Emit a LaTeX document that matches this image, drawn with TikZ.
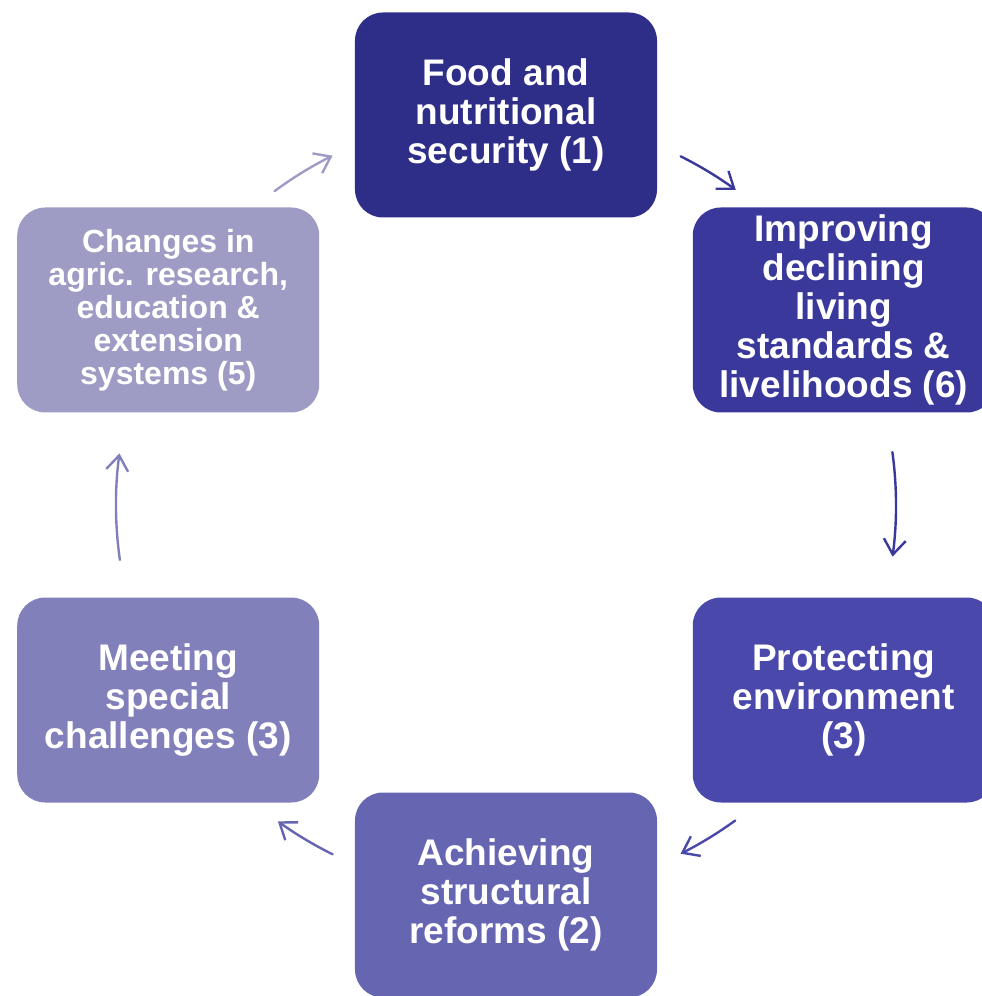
\documentclass[tikz,border=0pt]{standalone}
\usepackage{fontspec}
\setmainfont{Liberation Sans}
\usetikzlibrary{arrows.meta}

\definecolor{stepA}{HTML}{2E2D87}
\definecolor{stepB}{HTML}{3A399B}
\definecolor{stepC}{HTML}{4A48AA}
\definecolor{stepD}{HTML}{6665B2}
\definecolor{stepE}{HTML}{8280BA}
\definecolor{stepF}{HTML}{9E9CC4}

\begin{document}
\begin{tikzpicture}[x=1pt,y=1pt,
	box/.style={fill=#1, rounded corners=28pt, minimum width=302pt, minimum height=205pt,
		inner sep=0pt, align=center, text=white, font=\fontsize{37}{39}\selectfont\bfseries},
	flow/.style={draw=#1, line width=2.4pt, line cap=round,
		-{Straight Barb[length=15pt,width=22pt,line width=2.4pt]}}
]
	\useasboundingbox (-506,-491) rectangle (476,505);
	\coordinate (hub) at (0,0);

	% the six stages, round the circle
	\node (food) [box=stepA] at (90:390) {Food and\\nutritional\\security (1)};
	\node (living) [box=stepB] at (30:390) {Improving\\declining\\living\\standards \&\\livelihoods (6)};
	\node (env) [box=stepC] at (-30:390) {Protecting\\environment\\(3)};
	\node (reform) [box=stepD] at (-90:390) {Achieving\\structural\\reforms (2)};
	\node (special) [box=stepE] at (-150:390) {Meeting\\special\\challenges (3)};
	\node (research) [box=stepF, font=\fontsize{32}{33}\selectfont\bfseries] at (150:390)
		{Changes in\\agric. research,\\education \&\\extension\\systems (5)};

	% arcs between the stages
	\draw[flow=stepB] (hub) ++(63.4:390) arc[start angle=63.4, end angle=53.9, radius=390];
	\draw[flow=stepB] (hub) ++(7.8:390) arc[start angle=7.8, end angle=-7.6, radius=390];
	\draw[flow=stepC] (hub) ++(-54:390) arc[start angle=-54, end angle=-63.4, radius=390];
	\draw[flow=stepD] (hub) ++(-116.4:390) arc[start angle=-116.4, end angle=-125.8, radius=390];
	\draw[flow=stepE] (hub) ++(188.1:390) arc[start angle=188.1, end angle=172.4, radius=390];
	\draw[flow=stepF] (hub) ++(126.4:390) arc[start angle=126.4, end angle=116.4, radius=390];
\end{tikzpicture}
\end{document}
